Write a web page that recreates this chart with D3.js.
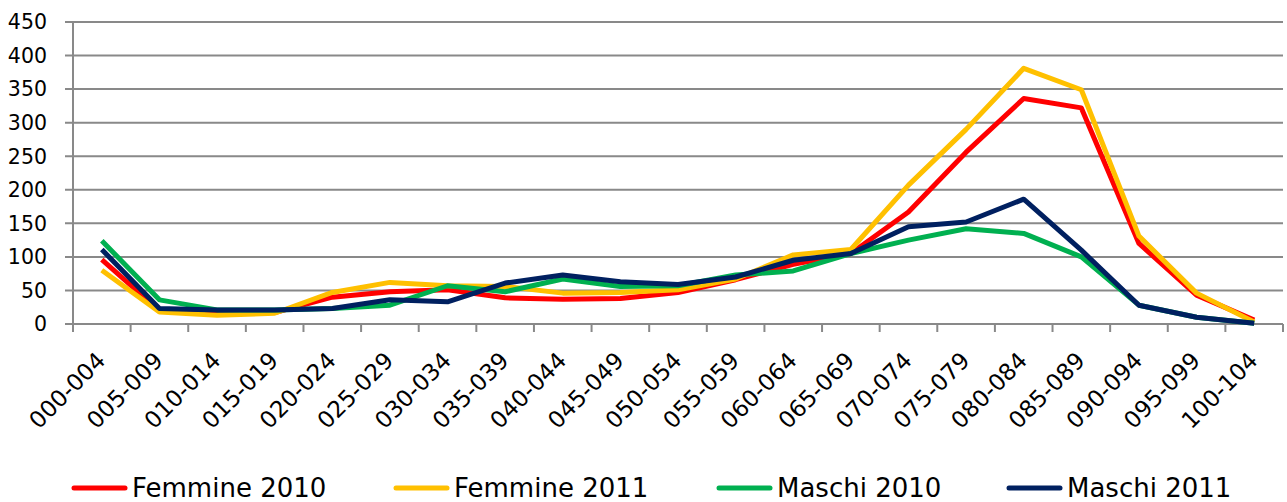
<!DOCTYPE html>
<html>
<head>
<meta charset="utf-8">
<script src="https://cdn.jsdelivr.net/npm/d3@7"></script>
<style>
 body { margin: 0; background: #fff; }
 text { font-family: "DejaVu Sans", Verdana, sans-serif; fill: #000; }
</style>
</head>
<body>
<script>
// age classes
var categories = ["000-004","005-009","010-014","015-019","020-024","025-029","030-034",
  "035-039","040-044","045-049","050-054","055-059","060-064","065-069","070-074",
  "075-079","080-084","085-089","090-094","095-099","100-104"];

var femmine2010 = [96, 20, 15, 17, 40, 48, 51, 39, 37, 38, 47, 66, 89, 105, 167, 256, 336, 322, 120, 43, 6];
var femmine2011 = [80, 18, 13, 16, 47, 62, 57, 56, 46, 47, 51, 67, 103, 111, 207, 290, 381, 349, 131, 46, 3];
var maschi2010 = [124, 36, 21, 21, 23, 28, 57, 48, 67, 56, 57, 73, 79, 105, 125, 142, 135, 100, 28, 10, 1];
var maschi2011 = [111, 23, 21, 21, 23, 36, 33, 61, 73, 63, 59, 70, 95, 105, 145, 152, 186, 110, 28, 10, 1];

var yTicks = [0, 50, 100, 150, 200, 250, 300, 350, 400, 450];

var series = [
  {name: "Femmine 2010", values: femmine2010, color: "#FF0000"},
  {name: "Femmine 2011", values: femmine2011, color: "#FFC000"},
  {name: "Maschi 2010", values: maschi2010, color: "#00B050"},
  {name: "Maschi 2011", values: maschi2011, color: "#002060"}
];

var width = 1287, height = 502;
var plotLeft = 73, plotRight = 1283, plotTop = 22, plotBottom = 324;

var svg = d3.select("body").append("svg")
  .attr("width", width)
  .attr("height", height);

var x = d3.scaleBand().domain(categories).range([plotLeft, plotRight]);
var y = d3.scaleLinear().domain([0, 450]).range([plotBottom, plotTop]);

// gridlines
svg.append("g").selectAll("line")
  .data(yTicks)
  .enter().append("line")
  .attr("x1", plotLeft - 8)
  .attr("x2", plotRight)
  .attr("y1", function(d) { return y(d); })
  .attr("y2", function(d) { return y(d); })
  .attr("stroke", "#898989")
  .attr("stroke-width", 2);

// y axis line
svg.append("line")
  .attr("x1", plotLeft).attr("x2", plotLeft)
  .attr("y1", plotTop).attr("y2", plotBottom)
  .attr("stroke", "#898989")
  .attr("stroke-width", 2);

// y labels
svg.append("g").selectAll("text")
  .data(yTicks)
  .enter().append("text")
  .attr("x", 47)
  .attr("y", function(d) { return y(d); })
  .attr("dy", "0.36em")
  .attr("text-anchor", "end")
  .style("font-size", "20.5px")
  .text(function(d) { return d; });

// x tick marks at category boundaries
var bounds = categories.map(function(c) { return x(c); }).concat([plotRight]);
svg.append("g").selectAll("line")
  .data(bounds)
  .enter().append("line")
  .attr("x1", function(d) { return d; })
  .attr("x2", function(d) { return d; })
  .attr("y1", plotBottom)
  .attr("y2", plotBottom + 8)
  .attr("stroke", "#898989")
  .attr("stroke-width", 2);

// x labels, rotated
svg.append("g").selectAll("text")
  .data(categories)
  .enter().append("text")
  .attr("transform", function(d) {
    return "translate(" + (x(d) + x.bandwidth() / 2 + 5) + "," + 362 + ") rotate(-45)";
  })
  .attr("text-anchor", "end")
  .style("font-size", "23px")
  .text(function(d) { return d; });

// lines
var line = d3.line()
  .x(function(d, i) { return x(categories[i]) + x.bandwidth() / 2; })
  .y(function(d) { return y(d); });

svg.append("g").selectAll("path")
  .data(series)
  .enter().append("path")
  .attr("fill", "none")
  .attr("stroke", function(d) { return d.color; })
  .attr("stroke-width", 5)
  .attr("stroke-linejoin", "round")
  .attr("d", function(d) { return line(d.values); });

// legend
var legendX = [72, 394, 717, 1007];
var leg = svg.append("g").selectAll("g")
  .data(series)
  .enter().append("g")
  .attr("transform", function(d, i) { return "translate(" + legendX[i] + ",488)"; });

leg.append("line")
  .attr("x1", 2).attr("x2", 53)
  .attr("stroke", function(d) { return d.color; })
  .attr("stroke-width", 5)
  .attr("stroke-linecap", "round");

leg.append("text")
  .attr("x", 60)
  .attr("y", 9)
  .style("font-size", "26px")
  .text(function(d) { return d.name; });
</script>
</body>
</html>
